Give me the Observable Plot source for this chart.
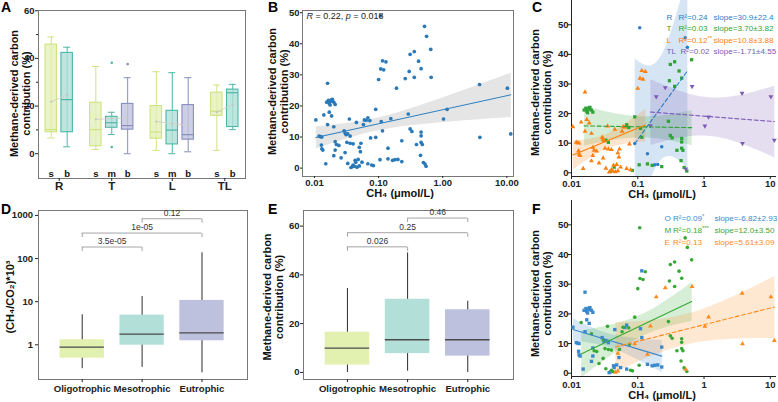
<!DOCTYPE html>
<html>
<head>
<meta charset="utf-8">
<script src="https://cdn.jsdelivr.net/npm/d3@7"></script>
<script src="https://cdn.jsdelivr.net/npm/@observablehq/plot@0.6"></script>
<style>
  html, body { margin: 0; padding: 0; background: #fff; }
  #fig { position: relative; width: 778px; height: 402px; overflow: hidden; }
  .panel { position: absolute; }
  .panel svg { display: block; }
  .tag { position: absolute; font: bold 14px "Liberation Sans", Arial, Helvetica, sans-serif; line-height: 15px; color: #000; }
</style>
</head>
<body>
<div id="fig"></div>
<script>
const FONT = "'Liberation Sans', Arial, Helvetica, sans-serif";

// ---------- Panel A: methane-derived carbon by basin type and water layer ----------
const basinGroups = ["R", "T", "L", "TL"];
const layersByBasin = [["s", "b"], ["s", "m", "b"], ["s", "m", "b"], ["s", "b"]];
const boxLow  = [6.6, 2.9, 1.8, 8.1, 0.0, 1.4, 0.0, 0.8, 1.4, 10.1];
const boxQ1   = [9.0, 9.0, 3.1, 10.9, 10.1, 6.3, 3.9, 5.9, 15.9, 11.2];
const boxMed  = [10.1, 22.7, 10.1, 13.0, 11.8, 9.1, 9.9, 8.0, 17.8, 25.6];
const boxQ3   = [45.8, 42.3, 21.4, 15.5, 20.9, 20.0, 18.0, 20.4, 25.6, 26.9];
const boxHigh = [49.0, 44.7, 36.6, 17.4, 31.9, 34.4, 34.0, 31.9, 28.8, 29.1];
const boxMean = [21.8, 24.7, 14.4, 14.8, 15.1, 13.5, 12.6, 12.0, 17.5, 20.7];
const outlierBox   = [3, 3, 4];
const outlierValue = [38.2, 2.8, 37.6];

// ---------- Panels B, C, F: CH4 vs methane-derived carbon, by basin type ----------
const rCH4 = [0.107, 0.52, 0.56, 0.09, 0.23, 0.14, 0.18, 0.20];
const rMDC = [49.0, 45.6, 42.4, 9.9, 8.8, 6.4, 2.7, 2.8];
const rTrophic = "MMMEOEOO".split("");

const tCH4 = [0.65, 0.36, 0.31, 0.42, 0.46, 0.30, 0.36, 0.09, 0.29, 0.11, 0.115, 0.31, 0.33, 0.46, 0.46, 0.46, 0.48, 0.39, 0.45, 0.105, 0.14, 0.165, 0.23, 0.083, 0.55, 0.044, 0.039, 0.019, 0.020, 0.021, 0.033, 0.036, 0.068, 0.073, 0.50, 0.0155, 0.0165, 0.017, 0.018, 0.0175, 0.0185];
const tMDC = [38.2, 37.5, 36.6, 34.4, 32.0, 31.1, 29.2, 18.9, 17.4, 15.0, 12.0, 12.6, 11.8, 11.6, 10.4, 8.3, 7.6, 7.6, 4.1, 2.7, 3.0, 2.5, 2.1, 0.8, 0.6, 1.9, 0.5, 22.1, 21.2, 20.5, 11.0, 10.3, 16.2, 15.3, 1.8, 21.2, 21.8, 20.8, 21.5, 20.3, 22.0];
const tTrophic = "MMMMMMMMMOOMMMMMMMMMOOOMMOOOOOOOOMMOOOOOO".split("");

const lCH4 = [0.115, 0.13, 0.108, 0.12, 0.10, 0.016, 0.017, 0.0185, 0.0105, 0.0118, 0.0125, 0.013, 0.0128, 0.013, 0.0135, 0.014, 0.016, 0.015, 0.020, 0.021, 0.022, 0.020, 0.021, 0.024, 0.026, 0.029, 0.030, 0.031, 0.032, 0.030, 0.033, 0.036, 0.035, 0.040, 0.037, 0.040, 0.042, 0.043, 0.046, 0.048, 0.050, 0.050, 0.045, 0.052, 0.053, 0.055, 0.058, 0.060, 0.064, 0.068, 0.078, 0.075];
const lMDC = [34.5, 34.2, 31.9, 31.6, 28.5, 27.3, 18.0, 16.8, 15.5, 10.3, 10.1, 10.0, 7.4, 6.2, 5.8, 17.1, 14.0, 1.4, 13.3, 8.5, 7.6, 4.0, 5.8, 7.3, 3.3, 12.0, 11.3, 10.8, 8.3, 5.0, 1.5, 8.0, 15.8, 7.8, 0.2, 1.0, 0.6, 2.5, 0.3, 2.8, 0.7, 6.7, 14.7, 5.3, 8.0, 1.9, 14.0, 15.5, 15.4, 1.4, 1.0, 9.7];
const lTrophic = "OMMMMOOOOOOOOOOMOOMOMOOMMOMOMMMMMMOMMOEOEEOOMOMMOOMM".split("");

const tlCH4 = [0.26, 0.19, 0.66, 0.155, 1.03, 1.17, 3.75, 3.8, 10.2, 11.5, 0.53];
const tlMDC = [28.8, 25.7, 29.2, 15.9, 15.8, 18.9, 26.9, 9.9, 25.7, 11.0, 1.3];
const tlTrophic = "EEEEEEEEEEE".split("");

// ---------- Panel C / F legends ----------
const cLabels = ["R", "T", "L", "TL"];
const cR2 = ["0.24", "0.03", "0.12", "0.02"];
const cSig = ["", "", "**", ""];
const cSlope = ["30.9±22.4", "3.70±3.82", "10.8±3.88", "-1.71±4.55"];
const fLabels = ["O", "M", "E"];
const fR2 = ["0.09", "0.18", "0.13"];
const fSig = ["*", "***", ""];
const fSlope = ["-6.82±2.93", "12.0±3.50", "5.61±3.09"];

// ---------- Panels D, E: trophic state box summaries ----------
const trophicNames = ["Oligotrophic", "Mesotrophic", "Eutrophic"];
const dLow = [0.28, 0.30, 0.224], dQ1 = [0.49, 0.98, 1.24], dMed = [0.88, 1.77, 1.9], dQ3 = [1.31, 4.88, 10.7], dHigh = [4.97, 13.2, 136];
const eLow = [0.0, 0.5, 0.0], eQ1 = [3.0, 7.7, 6.7], eMed = [10.0, 13.4, 13.4], eQ3 = [16.5, 30.0, 25.7], eHigh = [34.4, 49.0, 29.2];
const bracketFrom = [0, 0, 1], bracketTo = [1, 2, 2];
const dBracketY = [185, 390, 838], dBracketText = ["3.5e-05", "1e-05", "0.12"];
const eBracketY = [51.5, 57.3, 63.3], eBracketText = ["0.026", "0.25", "0.46"];

// ---------- helpers ----------
const fig = document.getElementById("fig");
const sqrt3 = Math.sqrt(3);
const triangleDown = {
  draw(ctx, size) {
    const y = -Math.sqrt(size / (sqrt3 * 3));
    ctx.moveTo(0, -y * 2); ctx.lineTo(-sqrt3 * y, y); ctx.lineTo(sqrt3 * y, y); ctx.closePath();
  }
};
const tickDown = { draw(ctx) { ctx.moveTo(0, 0); ctx.lineTo(0, 4); } };

const baseStyle = {fontFamily: FONT, fontSize: "9.5px", fontWeight: "bold", color: "#222", background: "transparent", overflow: "visible"};

// ~x~ -> italic, ^x -> superscript tail
function richify(svg) {
  const ns = "http://www.w3.org/2000/svg";
  for (const t of svg.querySelectorAll("text")) {
    const s = t.textContent;
    if (!/[~^]/.test(s)) continue;
    t.textContent = "";
    for (const p of s.split(/(~[^~]*~|\^\S*)/).filter(Boolean)) {
      const ts = document.createElementNS(ns, "tspan");
      if (p.startsWith("~")) { ts.setAttribute("font-style", "italic"); ts.textContent = p.slice(1, -1); }
      else if (p.startsWith("^")) { ts.setAttribute("baseline-shift", "super"); ts.setAttribute("font-size", "72%"); ts.textContent = p.slice(1); }
      else ts.textContent = p;
      t.appendChild(ts);
    }
  }
}
function place(left, top, svg) {
  const div = document.createElement("div");
  div.className = "panel";
  div.style.left = left + "px"; div.style.top = top + "px";
  div.appendChild(svg);
  fig.appendChild(div);
  richify(svg);
}
function tag(letter, left, top) {
  const d = document.createElement("div");
  d.className = "tag"; d.textContent = letter;
  d.style.left = left + "px"; d.style.top = top + "px";
  fig.appendChild(d);
}
function yLabel(text, dx, lineHeight = 1.15, dy = 0) {
  return Plot.text([text], {frameAnchor: "left", dx, dy, rotate: -90, textAnchor: "middle", lineAnchor: "middle", text: d => d, fontSize: 11, fontWeight: "bold", lineHeight, fill: "#111"});
}
function xLabel(text, dx, dy) {
  return Plot.text([text], {frameAnchor: "bottom", dx, dy, textAnchor: "middle", lineAnchor: "middle", text: d => d, fontSize: 11, fontWeight: "bold", fill: "#111"});
}
const MDC_LABEL = "Methane-derived carbon\ncontribution (%)";
const CH4_LABEL = "CH₄ (μmol/L)";

// ---------- point table ----------
const points = [];
function addBasin(basin, ch4, mdc, trophic) {
  ch4.forEach((c, i) => points.push({basin, ch4: c, mdc: mdc[i], trophic: trophic[i]}));
}
addBasin("R", rCH4, rMDC, rTrophic);
addBasin("T", tCH4, tMDC, tTrophic);
addBasin("L", lCH4, lMDC, lTrophic);
addBasin("TL", tlCH4, tlMDC, tlTrophic);

// ---------- Panel A ----------
{
  const slotFill = ["#e3f0b6", "#b0dfd7", "#c0c3de"];
  const slotStroke = ["#cfe384", "#4db7a7", "#888dbd"];
  const boxes = [];
  const centers = [];
  let pos = 0;
  basinGroups.forEach((g, gi) => {
    const start = pos;
    layersByBasin[gi].forEach((layer, li) => {
      const k = boxes.length;
      boxes.push({group: g, layer, slot: li, x: pos, low: boxLow[k], q1: boxQ1[k], med: boxMed[k], q3: boxQ3[k], high: boxHigh[k], mean: boxMean[k]});
      pos += 1;
    });
    centers.push({name: g, x: (start + pos - 1) / 2});
    pos += 0.8;
  });
  const lastX = boxes[boxes.length - 1].x;
  const outliers = outlierBox.map((b, i) => ({x: boxes[b].x, v: outlierValue[i], slot: boxes[b].slot}));
  const centerName = new Map(centers.map(c => [c.x, c.name]));
  const hw = 0.36, cap = 0.22;
  const svg = Plot.plot({
    width: 255, height: 200, marginLeft: 38, marginRight: 10, marginTop: 10, marginBottom: 22,
    style: baseStyle,
    x: {domain: [-0.8, lastX + 0.8]},
    y: {domain: [-10.4, 60.1]},
    color: {type: "identity"},
    marks: [
      Plot.frame({stroke: "#777"}),
      Plot.axisY({ticks: [0, 20, 40, 60], tickSize: 3, tickPadding: 1, label: null}),
      Plot.axisY({ticks: [10, 30, 50], tickSize: 2, tickFormat: () => "", label: null}),
      Plot.axisX({ticks: centers.map(c => c.x), tickFormat: d => centerName.get(d), tickSize: 3, tickPadding: 0, label: null, fontSize: 11.5}),
      Plot.ruleX(boxes, {x: "x", y1: "low", y2: "high", stroke: d => slotStroke[d.slot]}),
      Plot.ruleY(boxes, {y: "low", x1: d => d.x - cap, x2: d => d.x + cap, stroke: d => slotStroke[d.slot]}),
      Plot.ruleY(boxes, {y: "high", x1: d => d.x - cap, x2: d => d.x + cap, stroke: d => slotStroke[d.slot]}),
      Plot.rect(boxes, {x1: d => d.x - hw, x2: d => d.x + hw, y1: "q1", y2: "q3", fill: d => slotFill[d.slot], fillOpacity: 0.8, stroke: d => slotStroke[d.slot], strokeWidth: 1.1}),
      Plot.ruleY(boxes, {y: "med", x1: d => d.x - hw, x2: d => d.x + hw, stroke: d => slotStroke[d.slot], strokeWidth: 1.2}),
      Plot.line(boxes, {x: "x", y: "mean", z: "group", stroke: "#cfcfcf", strokeWidth: 0.9}),
      Plot.dot(boxes, {x: "x", y: "mean", r: 1.1, fill: "#c4c4c4"}),
      Plot.dot(outliers, {x: "x", y: "v", r: 1.3, fill: d => slotStroke[d.slot]}),
      Plot.text(boxes, {x: "x", text: "layer", frameAnchor: "bottom", lineAnchor: "middle", dy: -5, fontSize: 9.5, fontWeight: "bold", fill: "#111"}),
      yLabel(MDC_LABEL, -18, 1.09, -1)
    ]
  });
  place(0, 0, svg);
}

// ---------- Panel B ----------
{
  const svg = Plot.plot({
    width: 265, height: 200, marginLeft: 47, marginRight: 7, marginTop: 10, marginBottom: 24,
    style: baseStyle,
    x: {type: "log", domain: [0.0065, 12.7]},
    y: {domain: [-2.7, 50.7]},
    marks: [
      Plot.frame({stroke: "#777"}),
      Plot.axisY({ticks: [0, 10, 20, 30, 40, 50], tickSize: 2, tickPadding: 1, label: null}),
      Plot.axisX({ticks: [0.01, 0.1, 1, 10], tickFormat: d => d.toFixed(2), tickSize: 2, tickPadding: 1, label: null}),
      Plot.linearRegressionY(points, {x: "ch4", y: "mdc", stroke: "none", fill: "#9c9c9c", fillOpacity: 0.26}),
      Plot.dot(points, {x: "ch4", y: "mdc", r: 1.85, fill: "#2a79b8"}),
      Plot.linearRegressionY(points, {x: "ch4", y: "mdc", ci: 0, stroke: "#2f80c0", strokeWidth: 1.1}),
      Plot.text(["~R~ = 0.22, ~p~ = 0.018"], {frameAnchor: "top-left", dx: 4, dy: 6, textAnchor: "start", lineAnchor: "middle", text: d => d, fontSize: 9, fontWeight: "normal", fill: "#222"}),
      xLabel(CH4_LABEL, -8, 17),
      yLabel(MDC_LABEL, -24.5, 1.15, -2)
    ]
  });
  place(255, 0, svg);
}

// ---------- shared scatter-with-fits builder for C and F ----------
function fitPanel({left, top, height, marginBottom, yDomain, key, groups, colors, symbols, radii, dashed, labels, r2, sig, slope, legendDx, legendY, xTickPadding, labelDy, yLabelDy}) {
  const xDomain = [0.01, 12.4];
  const marks = [
    Plot.ruleX(xDomain.slice(0, 1), {stroke: "#222"}),
    Plot.ruleY(yDomain.slice(0, 1), {stroke: "#222"}),
    Plot.axisY({ticks: [0, 10, 20, 30, 40, 50], tickSize: 3, tickPadding: 0, label: null}),
    Plot.axisX({ticks: [0.01, 0.1, 1, 10], tickFormat: d => String(d), tickSize: 3, tickPadding: xTickPadding, label: null})
  ];
  for (const g of groups) {
    const sub = points.filter(p => p[key] === g);
    marks.push(Plot.linearRegressionY(sub, {x: "ch4", y: "mdc", stroke: "none", fill: colors[g], fillOpacity: 0.2, clip: true}));
  }
  for (const g of groups) {
    const sub = points.filter(p => p[key] === g);
    marks.push(Plot.dot(sub, {x: "ch4", y: "mdc", r: radii[g], symbol: symbols[g], fill: colors[g], stroke: "none"}));
  }
  for (const g of groups) {
    const sub = points.filter(p => p[key] === g);
    marks.push(Plot.linearRegressionY(sub, {x: "ch4", y: "mdc", ci: 0, stroke: colors[g], strokeWidth: 1.1, strokeDasharray: dashed[g] ? "4,2.5" : null, clip: true}));
  }
  labels.forEach((lab, i) => {
    const fill = colors[groups[i]];
    const common = {frameAnchor: "top-left", dy: legendY[i], textAnchor: "start", lineAnchor: "middle", text: d => d, fontSize: 8.1, fontWeight: "normal", fill};
    marks.push(Plot.text([lab], {...common, dx: legendDx[0]}));
    marks.push(Plot.text(["R²=" + r2[i] + (sig[i] ? "^" + sig[i] : "")], {...common, dx: legendDx[1] + (lab.length > 1 ? 2 : 0)}));
    marks.push(Plot.text(["slope=" + slope[i]], {...common, dx: legendDx[2]}));
  });
  marks.push(xLabel(CH4_LABEL, -12, labelDy));
  marks.push(yLabel(MDC_LABEL, -30.5, 1.15, yLabelDy));
  const svg = Plot.plot({
    width: 258, height, marginLeft: 51, marginRight: 2, marginTop: 0, marginBottom,
    style: baseStyle,
    x: {type: "log", domain: xDomain},
    y: {domain: yDomain},
    marks
  });
  place(left, top, svg);
}

// ---------- Panel C ----------
fitPanel({
  left: 520, top: 0, height: 200, marginBottom: 24, yDomain: [-1.25, 58.2], key: "basin",
  groups: ["R", "T", "L", "TL"],
  colors: {R: "#2c7fc6", T: "#2fa336", L: "#ff7f0e", TL: "#7d5bb5"},
  symbols: {R: "circle", T: "square", L: "triangle", TL: triangleDown},
  radii: {R: 1.75, T: 1.85, L: 1.8, TL: 1.8},
  dashed: {R: true, T: true, L: false, TL: true},
  labels: cLabels, r2: cR2, sig: cSig, slope: cSlope,
  legendDx: [95, 107, 142], legendY: [16.5, 28, 39.5, 51], xTickPadding: 0.5, labelDy: 17.5, yLabelDy: 4
});

// ---------- Panel F ----------
fitPanel({
  left: 520, top: 200, height: 202, marginBottom: 26, yDomain: [-1.1, 58.2], key: "trophic",
  groups: ["O", "M", "E"],
  colors: {O: "#3b89cb", M: "#36a934", E: "#ff8a1c"},
  symbols: {O: "square", M: "circle", E: "triangle"},
  radii: {O: 1.9, M: 1.8, E: 1.8},
  dashed: {O: false, M: false, E: true},
  labels: fLabels, r2: fR2, sig: fSig, slope: fSlope,
  legendDx: [93, 101.5, 143], legendY: [17.5, 30, 42], xTickPadding: 1.5, labelDy: 19, yLabelDy: 5
});

// ---------- shared box builder for D and E ----------
function trophicBoxPanel({left, width, marginLeft, marginRight, yScale, low, q1, med, q3, high, bracketY, bracketText, yTicks, label, labelDx, labelLineHeight}) {
  const fills = ["#e2f0b0", "#b2e0d8", "#bec1dd"];
  const boxes = trophicNames.map((name, i) => ({i, name, low: low[i], q1: q1[i], med: med[i], q3: q3[i], high: high[i], fill: fills[i]}));
  const brackets = bracketFrom.map((a, k) => ({a, b: bracketTo[k], y: bracketY[k], text: bracketText[k]}));
  const ends = brackets.flatMap(br => [{x: br.a, y: br.y}, {x: br.b, y: br.y}]);
  const hw = 0.37;
  const svg = Plot.plot({
    width, height: 202, marginLeft, marginRight, marginTop: 10, marginBottom: 23,
    style: baseStyle,
    x: {domain: [-0.73, 2.76]},
    y: yScale,
    color: {type: "identity"},
    marks: [
      Plot.frame({stroke: "#777"}),
      Plot.axisY({ticks: yTicks, tickFormat: d => String(d), tickSize: 3, tickPadding: yScale.type === "log" ? 2.5 : 1, label: null}),
      Plot.axisX({ticks: [0, 1, 2], tickFormat: d => trophicNames[d], tickSize: 3, tickPadding: 3, label: null, fontSize: 9.6}),
      Plot.ruleX(boxes, {x: "i", y1: "low", y2: "high", stroke: "#2a2a2a", strokeWidth: 1}),
      Plot.rect(boxes, {x1: d => d.i - hw, x2: d => d.i + hw, y1: "q1", y2: "q3", fill: "fill"}),
      Plot.ruleY(boxes, {y: "med", x1: d => d.i - hw, x2: d => d.i + hw, stroke: "#4a4a4a", strokeWidth: 1.3}),
      Plot.ruleY(brackets, {y: "y", x1: "a", x2: "b", stroke: "#9a9a9a", strokeWidth: 0.9}),
      Plot.dot(ends, {x: "x", y: "y", symbol: tickDown, stroke: "#9a9a9a", strokeWidth: 0.9, fill: "none"}),
      Plot.text(brackets, {x: d => (d.a + d.b) / 2, y: "y", dy: -5.5, text: "text", fontSize: 8.5, fontWeight: "normal", fill: "#333"}),
      yLabel(label, labelDx, labelLineHeight, 2)
    ]
  });
  place(left, 200, svg);
}

// ---------- Panel D ----------
trophicBoxPanel({
  left: 0, width: 255, marginLeft: 38, marginRight: 8,
  yScale: {type: "log", domain: [0.157, 1300]},
  low: dLow, q1: dQ1, med: dMed, q3: dQ3, high: dHigh,
  bracketY: dBracketY, bracketText: dBracketText, yTicks: [1, 10, 100, 1000],
  label: "(CH₄/CO₂)*10³", labelDx: -29
});

// ---------- Panel E ----------
trophicBoxPanel({
  left: 255, width: 265, marginLeft: 48, marginRight: 7,
  yScale: {domain: [-2.9, 66.4]},
  low: eLow, q1: eQ1, med: eMed, q3: eQ3, high: eHigh,
  bracketY: eBracketY, bracketText: eBracketText, yTicks: [0, 20, 40, 60],
  label: MDC_LABEL, labelDx: -30, labelLineHeight: 1.05
});

// ---------- panel letters ----------
tag("A", 1, 0); tag("B", 268, 0); tag("C", 532, 0);
tag("D", 1, 202); tag("E", 268, 202); tag("F", 532, 202);
</script>
</body>
</html>
